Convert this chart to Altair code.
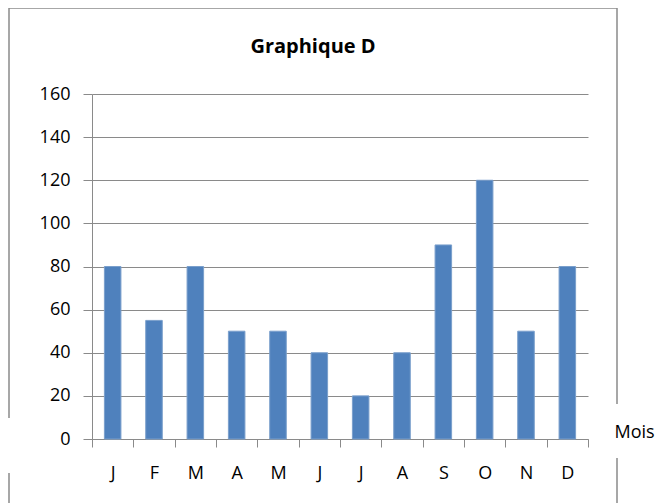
import altair as alt
import pandas as pd

months = ["J", "F", "M", "A", "M", "J", "J", "A", "S", "O", "N", "D"]
values = [80, 55, 80, 50, 50, 40, 20, 40, 90, 120, 50, 80]
keys = [f"{i}" for i in range(len(months))]

df = pd.DataFrame({"k": keys, "mois": months, "v": values})
label_expr = "{" + ",".join(f"'{k}':'{m}'" for k, m in zip(keys, months)) + "}[datum.value]"

W, H = 496, 345
FONT = "Open Sans"
GRAY = "#8a8a8a"

bars = alt.Chart(df).mark_bar(color="#4F81BD", stroke="#7a9fcc", strokeWidth=1,
                              width=alt.RelativeBandSize(0.4)).encode(
    x=alt.X("k:N", sort=keys,
            scale=alt.Scale(paddingInner=0, paddingOuter=0),
            axis=alt.Axis(title="Mois", labelExpr=label_expr, labelAngle=0,
                          tickBand="extent", tickSize=8, tickColor=GRAY, domainColor=GRAY,
                          labelFont=FONT, labelFontSize=18, labelColor="#000", labelPadding=17,
                          titleFont=FONT, titleFontSize=18, titleFontWeight="normal", titleColor="#000",
                          titleX=522, titleY=-7, titleAlign="left", titleBaseline="middle")),
    y=alt.Y("v:Q", scale=alt.Scale(domain=[0, 160], nice=False),
            axis=alt.Axis(title=None, values=list(range(0, 161, 20)), grid=True, gridColor=GRAY,
                          tickSize=9, tickColor=GRAY, domainColor=GRAY,
                          labelFont=FONT, labelFontSize=18, labelColor="#000", labelPadding=13)),
)

def rule(x1, x2, y1, y2):
    return alt.Chart(df.head(1)).mark_rule(color=GRAY, strokeWidth=1.5).encode(
        x=alt.value(x1), x2=alt.value(x2), y=alt.value(y1), y2=alt.value(y2))

L, R, T, B = -83, 525, -86, 420
frame = (rule(L, R, T, T) + rule(L, L, T, 324) + rule(L, L, 379, B)
         + rule(R, R, T, 310) + rule(R, R, 364, B))

chart = (frame + bars).properties(
    width=W, height=H,
    title=alt.TitleParams("Graphique D", font=FONT, fontSize=20, fontWeight="bold",
                          color="#000", dx=-27, offset=-66, baseline="alphabetic",
                          anchor="middle"),
    padding={"left": 84, "top": 86, "right": 70, "bottom": 70},
    autosize=alt.AutoSizeParams(type="none"),
).configure_view(stroke=None)

chart.save("out.html", embed_options={"renderer": "svg", "actions": False})
